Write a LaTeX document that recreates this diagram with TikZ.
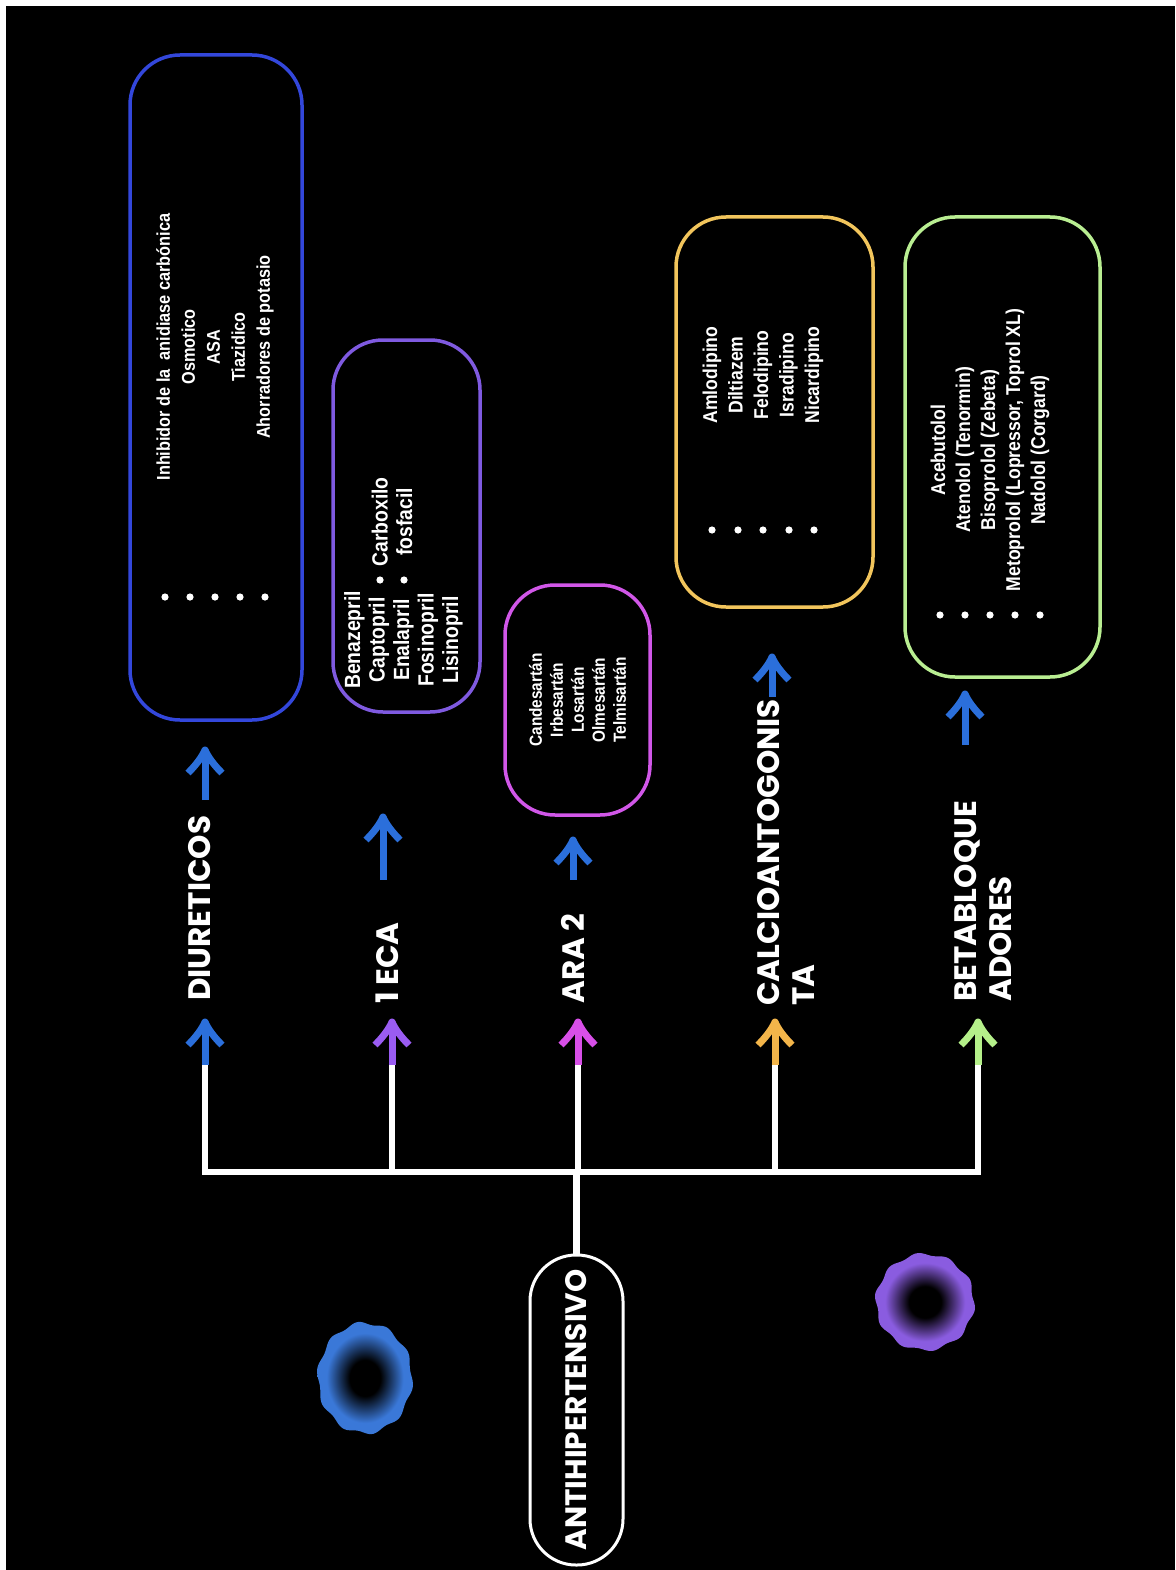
\documentclass[tikz,border=0pt]{standalone}
\usepackage{fontspec}
\setmainfont{Liberation Sans}
\newfontfamily\catfont{Poppins}
\newfontfamily\condfont{Liberation Sans}[FakeStretch=0.88]
\definecolor{cblue}{HTML}{3347DB}
\definecolor{cviolet}{HTML}{7F5AE0}
\definecolor{cmagenta}{HTML}{D157E8}
\definecolor{cyellow}{HTML}{F2C55C}
\definecolor{cgreen}{HTML}{B9EE92}
\definecolor{ablue}{HTML}{2B6FDB}
\definecolor{aviolet}{HTML}{9A5CF2}
\definecolor{amagenta}{HTML}{D84FE8}
\definecolor{ayellow}{HTML}{F3B54A}
\definecolor{agreen}{HTML}{B5F08A}
\definecolor{bblue}{HTML}{3A78D8}
\definecolor{bpurple}{HTML}{8A5CE0}
\pgfdeclareradialshading{blobB}{\pgfpoint{0bp}{0bp}}{color(0bp)=(black); color(8bp)=(black); color(20bp)=(bblue); color(50bp)=(bblue)}
\pgfdeclareradialshading{blobP}{\pgfpoint{0bp}{0bp}}{color(0bp)=(black); color(8bp)=(black); color(20bp)=(bpurple); color(50bp)=(bpurple)}
\begin{document}
\begin{tikzpicture}[x=1pt,y=-1pt,
  box/.style={draw=#1, line width=3.5pt, rounded corners=50pt, fill=black, inner sep=0pt},
  list/.style args={#1/#2}{rotate=90, align=center, text=white, inner sep=0pt, font=\condfont\bfseries\fontsize{#1}{#2}\selectfont},
  cat/.style={rotate=90, align=left, text=white, inner sep=0pt, anchor=north west, font=\catfont\bfseries\fontsize{31}{35}\selectfont},
  wire/.style={white, line width=6.5pt},
  pics/uparr/.style args={#1/#2}{code={
    \draw[#1, line width=7pt] (0,#2) -- (0,4);
    \draw[#1, line width=7pt, line join=round] (-17,25) .. controls (-9,17) and (-3,9) .. (0,2) .. controls (3,9) and (9,17) .. (17,25);
  }}]
\useasboundingbox (0,0) rectangle (1175,1570);
\fill[white] (0,0) rectangle (1175,1570);
\fill[black] (6,6) rectangle (1175,1570);

% boxes
\node[box=cblue, minimum width=172pt, minimum height=665pt] (dbox) at (216,387.5) {};
\node[box=cviolet, minimum width=147pt, minimum height=372pt] (ebox) at (406.5,526) {};
\node[box=cmagenta, minimum width=145pt, minimum height=230pt] (abox) at (577.5,700) {};
\node[box=cyellow, minimum width=197pt, minimum height=390pt] (cbox) at (774.5,412) {};
\node[box=cgreen, minimum width=195pt, minimum height=460pt] (bbox) at (1002.5,447) {};

% box texts
\node[list=18.5/25] (dtxt) at (215,347) {Inhibidor de la\ \ anidiase carbónica\\Osmotico\\ASA\\Tiazidico\\Ahorradores de potasio};
\foreach \x in {165,190,215,240,265} \fill[white] (\x,597) circle (3.6);
\node[list=22/24.5] (etxt) at (403.5,640) {Benazepril\\Captopril\\Enalapril\\Fosinopril\\Lisinopril};
\node[list=22/24.5] (etxt2) at (392,522) {Carboxilo\\fosfacil};
\foreach \x in {380,404} \fill[white] (\x,580) circle (3.6);
\node[list=17.5/21] (atxt) at (577.5,700) {Candesartán\\Irbesartán\\Losartán\\Olmesartán\\Telmisartán};
\node[list=20/25.5] (ctxt) at (763,375) {Amlodipino\\Diltiazem\\Felodipino\\Isradipino\\Nicardipino};
\foreach \x in {712,738,763,789,814} \fill[white] (\x,530) circle (3.6);
\node[list=20/25] (btxt) at (990,450) {Acebutolol\\Atenolol (Tenormin)\\Bisoprolol (Zebeta)\\Metoprolol (Lopressor, Toprol XL)\\Nadolol (Corgard)};
\foreach \x in {940,965,990,1015,1040} \fill[white] (\x,615) circle (3.6);

% category labels
\node[cat] (diu) at (188,1001) {DIURETICOS};
\node[cat] (eca) at (376,1004) {1 ECA};
\node[cat] (ara) at (561,1004) {ARA 2};
\node[cat] (cal) at (757,1006) {CALCIOANTOGONIS\\TA};
\node[cat] (bet) at (954,1002) {BETABLOQUE\\ADORES};

% root
\node[rotate=90, draw=white, line width=3pt, rounded corners=46pt, minimum width=310pt, minimum height=93pt, inner sep=0pt, text=white, font=\catfont\bfseries\fontsize{29.5}{30}\selectfont] (root) at (576.5,1410) {ANTIHIPERTENSIVO};

% tree
\coordinate (bus) at (578,1172);
\coordinate (d0) at (205,1062);
\coordinate (e0) at (392,1062);
\coordinate (a0) at (578,1062);
\coordinate (c0) at (775,1062);
\coordinate (b0) at (978,1062);
\draw[wire] (root.east) -- (root.east |- bus);
\draw[wire] (d0) -- (d0 |- bus) -- (b0 |- bus) -- (b0);
\draw[wire] (e0) -- (e0 |- bus);
\draw[wire] (a0) -- (a0 |- bus);
\draw[wire] (c0) -- (c0 |- bus);

% lower colored arrows
\pic at (205,1020) {uparr={ablue/45}};
\pic at (392,1020) {uparr={aviolet/45}};
\pic at (578,1020) {uparr={amagenta/45}};
\pic at (775,1020) {uparr={ayellow/45}};
\pic at (978,1020) {uparr={agreen/45}};

% upper blue arrows
\pic at (205,748) {uparr={ablue/52}};
\pic at (383,815) {uparr={ablue/65}};
\pic at (573,838) {uparr={ablue/42}};
\pic at (772,655) {uparr={ablue/42}};
\pic at (965,692) {uparr={ablue/53}};

% blobs
\shade[shading=blobB] plot[domain=0:357, samples=144] ({365+47*(1+0.03*sin(10*\x))*cos(\x)}, {1378+55*(1+0.03*sin(10*\x))*sin(\x)}) -- cycle;
\shade[shading=blobP] plot[domain=0:357, samples=144] ({925+49*(1+0.03*sin(10*\x))*cos(\x)}, {1302+48*(1+0.03*sin(10*\x))*sin(\x)}) -- cycle;
\end{tikzpicture}
\end{document}
